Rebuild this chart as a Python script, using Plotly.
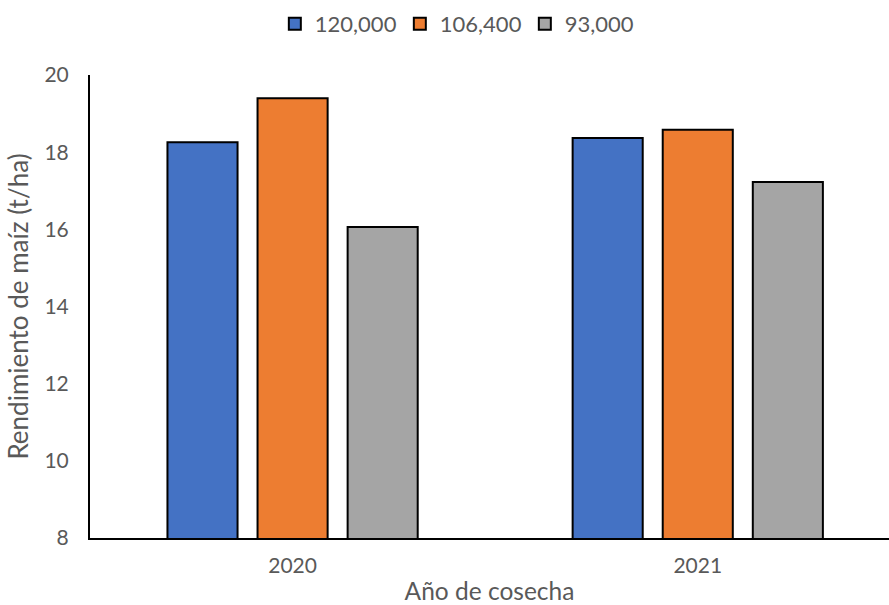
import plotly.graph_objects as go

years = ["2020", "2021"]
series_names = ["120,000", "106,400", "93,000"]
yield_120000 = [18.26, 18.37]
yield_106400 = [19.40, 18.58]
yield_93000 = [16.06, 17.23]
colors = ["#4472C4", "#ED7D31", "#A5A5A5"]
y_ticks = [8, 10, 12, 14, 16, 18, 20]

font_family = "Lato, 'Open Sans', sans-serif"
text_color = "#595959"

fig = go.Figure()
for name, vals, col in zip(series_names, [yield_120000, yield_106400, yield_93000], colors):
    fig.add_trace(go.Bar(
        x=years, y=vals, name=name,
        marker=dict(color=col, line=dict(color="black", width=2)),
    ))

fig.update_layout(
    width=889, height=605,
    margin=dict(l=90, r=0, t=75, b=67),
    paper_bgcolor="white", plot_bgcolor="white",
    barmode="group", bargap=0.333, bargroupgap=0.222,
    font=dict(family=font_family, color=text_color, size=21),
    legend=dict(orientation="h", x=0.466, xanchor="center", y=0.995, yanchor="top",
                yref="container", font=dict(size=22, color=text_color),
                itemwidth=30, entrywidth=80, traceorder="normal"),
    xaxis=dict(range=[-0.5, 1.472], showline=True, linecolor="black", linewidth=2,
               ticks="", ticklabelstandoff=8, tickfont=dict(size=21, color=text_color),
               title=dict(text="Año de cosecha", font=dict(size=24.5, color=text_color), standoff=12)),
    yaxis=dict(range=[8, 20], tickvals=y_ticks, showline=True, linecolor="black", linewidth=2,
               showgrid=False, zeroline=False, ticks="", ticklabelstandoff=15,
               tickfont=dict(size=21, color=text_color),
               title=dict(text="Rendimiento de maíz (t/ha)", font=dict(size=26, color=text_color), standoff=8)),
)

fig.write_html("out.html")
